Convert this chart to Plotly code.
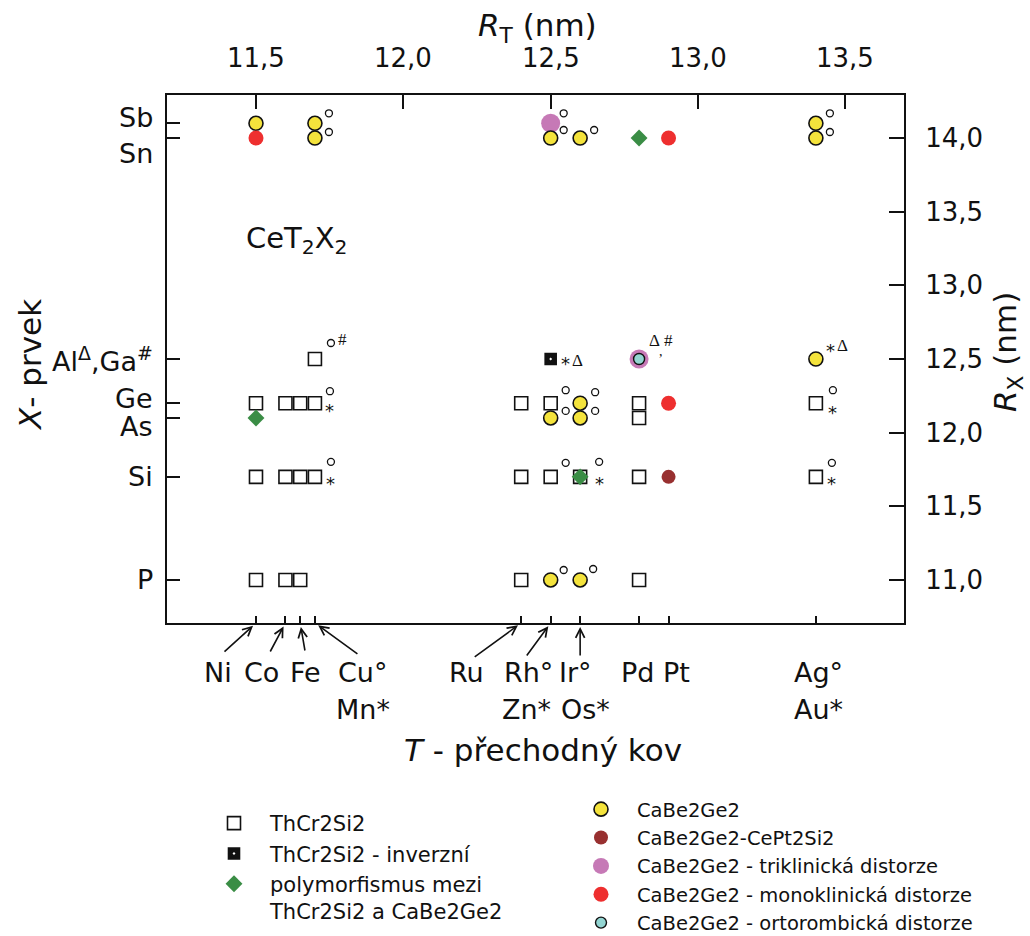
import plotly.graph_objects as go

# ---- data -----------------------------------------------------------------
# transition metal T and its radius (horizontal axis)
T_names = ["Ni", "Co", "Fe", "Cu", "Ru", "Rh", "Ir", "Pd", "Pt", "Ag"]
T_radius = [11.50, 11.60, 11.65, 11.70, 12.40, 12.50, 12.60, 12.80, 12.90, 13.40]

# p-element X and its radius (vertical axis)
X_names = ["Sb", "Sn", "AlGa", "Ge", "As", "Si", "P"]
X_radius = [14.1, 14.0, 12.5, 12.2, 12.1, 11.7, 11.0]

# structure types found for each (T, X) pair
thcr2si2 = [("Ni", "Ge"), ("Ni", "Si"), ("Ni", "P"),
            ("Co", "Ge"), ("Co", "Si"), ("Co", "P"),
            ("Fe", "Ge"), ("Fe", "Si"), ("Fe", "P"),
            ("Cu", "AlGa"), ("Cu", "Ge"), ("Cu", "Si"),
            ("Ru", "Ge"), ("Ru", "Si"), ("Ru", "P"),
            ("Rh", "Ge"), ("Rh", "Si"), ("Ir", "Si"),
            ("Pd", "Ge"), ("Pd", "As"), ("Pd", "Si"), ("Pd", "P"),
            ("Ag", "Ge"), ("Ag", "Si")]
thcr2si2_inverse = [("Rh", "AlGa")]
polymorph = [("Ni", "As"), ("Ir", "Si"), ("Pd", "Sn")]
cabe2ge2 = [("Ni", "Sb"), ("Cu", "Sb"), ("Cu", "Sn"), ("Rh", "Sn"), ("Ir", "Sn"),
            ("Ag", "Sb"), ("Ag", "Sn"), ("Rh", "As"), ("Ir", "Ge"), ("Ir", "As"),
            ("Rh", "P"), ("Ir", "P"), ("Ag", "AlGa")]
cept2si2 = [("Pt", "Si")]
triclinic = [("Rh", "Sb"), ("Pd", "AlGa")]
monoclinic = [("Ni", "Sn"), ("Pt", "Sn"), ("Pt", "Ge")]
orthorhombic = [("Pd", "AlGa")]

# element marks next to a compound: o = Cu/Rh/Ir/Ag, * = Mn/Zn/Os/Au,
# D = Al, # = Ga ; offsets in screen pixels (right, down)
marks = [
    ("Cu", "Sb", "o", 14, -10), ("Cu", "Sn", "o", 14, -6),
    ("Cu", "AlGa", "o", 16, -16), ("Cu", "AlGa", "#", 28, -20),
    ("Cu", "Ge", "o", 15, -12), ("Cu", "Ge", "*", 15, 7),
    ("Cu", "Si", "o", 16, -15), ("Cu", "Si", "*", 16, 7),
    ("Rh", "Sb", "o", 13, -10), ("Rh", "Sn", "o", 13, -8), ("Ir", "Sn", "o", 14, -8),
    ("Rh", "AlGa", "*", 15, 4), ("Rh", "AlGa", "D", 27, 1),
    ("Rh", "Ge", "o", 15, -13), ("Rh", "As", "o", 15, -7),
    ("Ir", "Ge", "o", 15, -11), ("Ir", "As", "o", 15, -7),
    ("Rh", "Si", "o", 15, -14), ("Ir", "Si", "o", 19, -15), ("Ir", "Si", "*", 19, 7),
    ("Pd", "AlGa", "D", 15, -19), ("Pd", "AlGa", ",", 22, -10), ("Pd", "AlGa", "#", 29, -19),
    ("Rh", "P", "o", 13, -10), ("Ir", "P", "o", 13, -11),
    ("Ag", "AlGa", "*", 15, -9), ("Ag", "AlGa", "D", 27, -14),
    ("Ag", "Sb", "o", 14, -10), ("Ag", "Sn", "o", 14, -6),
    ("Ag", "Ge", "o", 17, -13), ("Ag", "Ge", "*", 17, 9),
    ("Ag", "Si", "o", 16, -14), ("Ag", "Si", "*", 16, 7),
]

# axis tick labels
top_tick_vals = [11.5, 12.0, 12.5, 13.0, 13.5]
top_tick_text = ["11,5", "12,0", "12,5", "13,0", "13,5"]
right_tick_vals = [11.0, 11.5, 12.0, 12.5, 13.0, 13.5, 14.0]
right_tick_text = ["11,0", "11,5", "12,0", "12,5", "13,0", "13,5", "14,0"]

# X labels on the left axis: text, element, vertical nudge (px, up)
X_labels = [("Sb", "Sb", 6), ("Sn", "Sn", -15),
            ("Al<sup>Δ</sup>,Ga<sup>#</sup>", "AlGa", 0),
            ("Ge", "Ge", 5), ("As", "As", -9), ("Si", "Si", 0), ("P", "P", 0)]

# T labels under the bottom axis: text, element, horizontal nudge, row
T_labels = [("Ni", "Ni", -38, 0), ("Co", "Co", -24, 0), ("Fe", "Fe", 5, 0),
            ("Cu°", "Cu", 48, 0), ("Mn*", "Cu", 48, 1),
            ("Ru", "Ru", -55, 0), ("Rh°", "Rh", -22, 0), ("Zn*", "Rh", -24, 1),
            ("Ir°", "Ir", -5, 0), ("Os*", "Ir", 5, 1),
            ("Pd", "Pd", -2, 0), ("Pt", "Pt", 8, 0),
            ("Ag°", "Ag", 3, 0), ("Au*", "Ag", 3, 1)]
# arrows from labels up to the ticks (tail offset from tip, px)
T_arrows = [("Ni", -33, 30), ("Co", -16, 30), ("Fe", 5, 29), ("Cu", 44, 32),
            ("Ru", -48, 35), ("Rh", -25, 34), ("Ir", 0, 34)]

# ---- layout geometry ------------------------------------------------------
W, H = 1030, 936
ML, MR, MT, MB = 167, 126, 95, 313
PW, PH = W - ML - MR, H - MT - MB
x_range = [11.198, 13.699]
y_range = [10.708, 14.292]
px_x = PW / (x_range[1] - x_range[0])
px_y = PH / (y_range[1] - y_range[0])


def paper_x(px):
    return (px - ML) / PW


def paper_y(py):
    return (MT + PH - py) / PH


FONT = "DejaVu Sans"
SERIF = "Liberation Serif"
INK = "#111111"

YELLOW = "#f4e33c"
DARKRED = "#983030"
PURPLE = "#c679b6"
RED = "#ee2f2f"
CYAN = "#93d5d2"
GREEN = "#3a8d45"

Tx = dict(zip(T_names, T_radius))
Xy = dict(zip(X_names, X_radius))


def xy(pairs):
    return [Tx[t] for t, _ in pairs], [Xy[x] for _, x in pairs]


fig = go.Figure()


def add(pairs, name, legend, rank, **marker):
    xs, ys = xy(pairs)
    fig.add_trace(go.Scatter(x=xs, y=ys, mode="markers", name=name,
                             legend=legend, legendrank=rank,
                             marker=marker, hoverinfo="skip"))


add(thcr2si2, "ThCr2Si2", "legend", 1, symbol="square", size=13, color="white",
    line=dict(color=INK, width=1.6))
add(thcr2si2_inverse, "ThCr2Si2 - inverzní", "legend", 2, symbol="square-dot", size=14,
    color=INK, line=dict(color="white", width=1.4))
add(triclinic, "CaBe2Ge2 - triklinická distorze", "legend2", 3, symbol="circle", size=19,
    color=PURPLE, line=dict(width=0))
add(cabe2ge2, "CaBe2Ge2", "legend2", 1, symbol="circle", size=14, color=YELLOW,
    line=dict(color=INK, width=1.6))
add(cept2si2, "CaBe2Ge2-CePt2Si2", "legend2", 2, symbol="circle", size=14, color=DARKRED,
    line=dict(width=0))
add(monoclinic, "CaBe2Ge2 - monoklinická distorze", "legend2", 4, symbol="circle", size=15,
    color=RED, line=dict(width=0))
add(orthorhombic, "CaBe2Ge2 - ortorombická distorze", "legend2", 5, symbol="circle", size=11,
    color=CYAN, line=dict(color=INK, width=1.4))
add(polymorph, "polymorfismus mezi<br>ThCr2Si2 a CaBe2Ge2", "legend", 3, symbol="diamond",
    size=13, color=GREEN, line=dict(width=0))

# small rings next to compounds (° element marks)
ring_x = [Tx[t] + dx / px_x for t, x, m, dx, dy in marks if m == "o"]
ring_y = [Xy[x] - dy / px_y for t, x, m, dx, dy in marks if m == "o"]
fig.add_trace(go.Scatter(x=ring_x, y=ring_y, mode="markers", showlegend=False,
                         hoverinfo="skip",
                         marker=dict(symbol="circle", size=7, color="white",
                                     line=dict(color=INK, width=1.3))))

# empty trace carrying the top / right axes
fig.add_trace(go.Scatter(x=[], y=[], xaxis="x2", yaxis="y2", showlegend=False,
                         hoverinfo="skip"))

ann = []
# text element marks (*, Δ, #)
glyph = {"*": ("*", FONT, 18, 0), "D": ("Δ", SERIF, 17, 0),
         "#": ("#", SERIF, 17, 0), ",": (",", SERIF, 14, 2)}
for t, x, m, dx, dy in marks:
    if m == "o":
        continue
    txt, fam, sz, adj = glyph[m]
    ann.append(dict(x=Tx[t], y=Xy[x], xref="x", yref="y", text=txt, showarrow=False,
                    xanchor="center", yanchor="middle",
                    xshift=dx, yshift=-(dy + adj), font=dict(family=fam, size=sz, color=INK)))

# top axis tick labels (set a little above the frame)
for val, txt in zip(top_tick_vals, top_tick_text):
    ann.append(dict(x=val, y=1, xref="x", yref="paper", text=txt, showarrow=False,
                    xanchor="center", yanchor="middle", yshift=37,
                    font=dict(family=FONT, size=26, color=INK)))

# left axis element labels
for txt, el, nudge in X_labels:
    ann.append(dict(x=0, y=Xy[el], xref="paper", yref="y", text=txt, showarrow=False,
                    xanchor="right", yanchor="middle", xshift=-12, yshift=nudge,
                    font=dict(family=FONT, size=27, color=INK)))

# bottom transition metal labels
for txt, el, nudge, row in T_labels:
    ann.append(dict(x=Tx[el], y=0, xref="x", yref="paper", text=txt, showarrow=False,
                    xanchor="center", yanchor="middle", xshift=nudge,
                    yshift=-49 - 37 * row, font=dict(family=FONT, size=27, color=INK)))
for el, ax, ay in T_arrows:
    ann.append(dict(x=Tx[el], y=0, xref="x", yref="paper", text="", showarrow=True,
                    ax=ax, ay=ay, arrowhead=5, arrowsize=1.1, arrowwidth=1.6,
                    arrowcolor=INK, standoff=4))

# titles
title_font = dict(family=FONT, size=31, color=INK)
ann += [
    dict(x=paper_x(543), y=paper_y(750), xref="paper", yref="paper",
         text="<i>T</i> - přechodný kov", showarrow=False,
         xanchor="center", yanchor="middle", font=title_font),
    dict(x=paper_x(30), y=paper_y(365), xref="paper", yref="paper",
         text="<i>X</i>- prvek", showarrow=False, textangle=-90,
         xanchor="center", yanchor="middle", font=title_font),
    dict(x=paper_x(1007), y=paper_y(352), xref="paper", yref="paper",
         text="<i>R</i><sub>X</sub> (nm)", showarrow=False, textangle=-90,
         xanchor="center", yanchor="middle", font=title_font),
    dict(x=paper_x(537), y=paper_y(28), xref="paper", yref="paper",
         text="<i>R</i><sub>T</sub> (nm)", showarrow=False,
         xanchor="center", yanchor="middle", font=title_font),
    dict(x=paper_x(297), y=paper_y(240), xref="paper", yref="paper",
         text="CeT<sub>2</sub>X<sub>2</sub>", showarrow=False,
         xanchor="center", yanchor="middle", font=dict(family=FONT, size=29, color=INK)),
]

axis_common = dict(showgrid=False, zeroline=False, showline=True, linecolor=INK,
                   linewidth=2, ticks="inside", tickcolor=INK, tickwidth=2)
legend_common = dict(xanchor="left", yanchor="top", itemsizing="trace", valign="top",
                     itemwidth=62, bgcolor="rgba(0,0,0,0)")

fig.update_layout(
    width=W, height=H,
    margin=dict(l=ML, r=MR, t=MT, b=MB, autoexpand=False),
    paper_bgcolor="white", plot_bgcolor="white",
    font=dict(family=FONT, color=INK),
    xaxis=dict(range=x_range, tickvals=T_radius, showticklabels=False, ticklen=7,
               **axis_common),
    xaxis2=dict(range=x_range, overlaying="x", side="top", tickvals=top_tick_vals,
                showticklabels=False, ticklen=14, **axis_common),
    yaxis=dict(range=y_range, tickvals=X_radius, showticklabels=False, ticklen=13,
               **axis_common),
    yaxis2=dict(range=y_range, overlaying="y", side="right", tickvals=right_tick_vals,
                ticktext=right_tick_text, ticklen=15, ticklabelstandoff=14,
                tickfont=dict(family=FONT, size=26, color=INK), **axis_common),
    legend=dict(x=paper_x(198), y=paper_y(803),
                font=dict(family=FONT, size=21, color=INK), **legend_common),
    legend2=dict(x=paper_x(565), y=paper_y(790),
                 font=dict(family=FONT, size=19.5, color=INK), **legend_common),
    annotations=ann,
)

fig.write_html("out.html")
